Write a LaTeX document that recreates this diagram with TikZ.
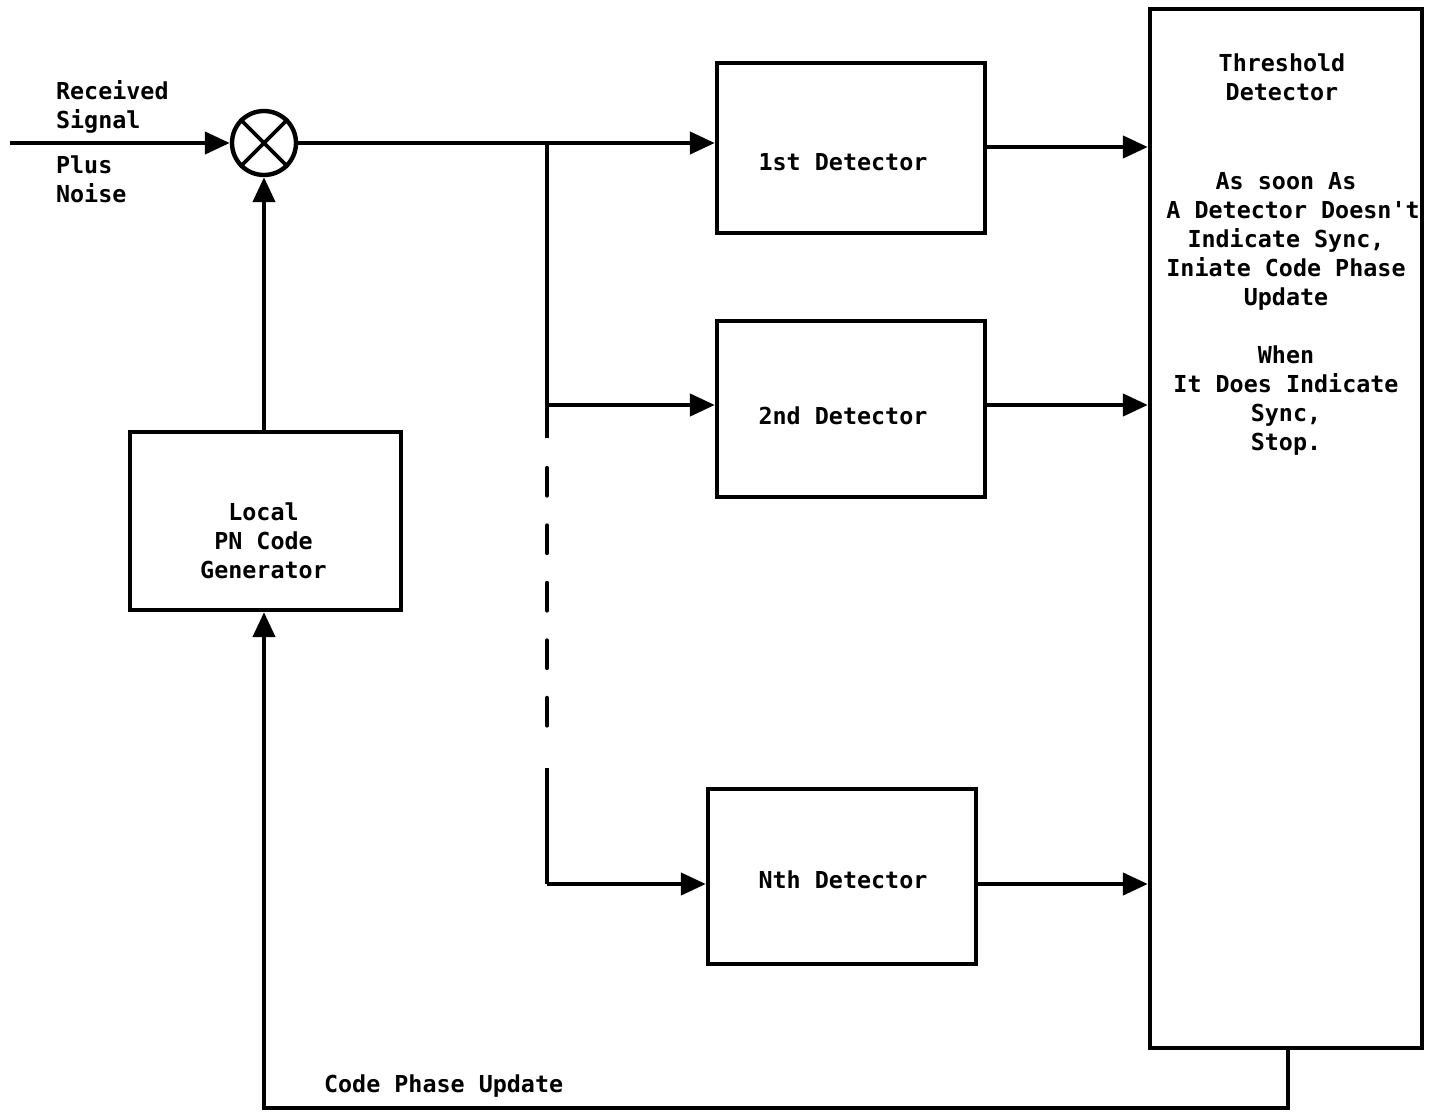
\documentclass[tikz,border=0pt]{standalone}
\usepackage{fontspec}
\usepackage{tikz}
\usetikzlibrary{arrows.meta, positioning, calc}
\newfontfamily\diagfont{DejaVu Sans Mono}

\begin{document}
\begin{tikzpicture}[x=0.02cm, y=-0.02cm,
  font=\diagfont\bfseries\fontsize{13.3pt}{16.5pt}\selectfont,
  line width=2.5pt,
  box/.style={draw, rectangle, minimum width=5.36cm, minimum height=3.45cm, inner sep=0pt},
  arr/.style={-{Triangle[length=0.5cm,width=0.44cm]}}]
\useasboundingbox (0,0) rectangle (1434,1112);

% ---- mixer + inputs ----
\node[draw, circle, minimum size=1.28cm, inner sep=0pt] (mix) at (264,143) {};
\draw[line width=2.2pt] (mix.north east) -- (mix.south west);
\draw[line width=2.2pt] (mix.north west) -- (mix.south east);
\coordinate (in) at (10,143);
\node[anchor=west, align=left] (rxlbl) at (48,106.5) {Received\\Signal};
\node[anchor=west, align=left] (noiselbl) at (48,179.5) {Plus\\Noise};
\draw[arr] (in) -- (mix.west);

% ---- local code generator ----
\node[box, minimum width=5.42cm, minimum height=3.56cm] (pngen) at (265.5,521) {};
\node[align=center] (pngenlbl) at ($(pngen.center)+(-2,20)$) {Local\\PN Code\\Generator};
\draw[arr] (mix.south |- pngen.north) -- (mix.south);

% ---- detectors ----
\node[box, minimum height=3.4cm] (det1) at (851,148) {};
\node (det1lbl) at ($(det1.center)+(-8,14)$) {1st Detector};
\node[box, minimum height=3.52cm] (det2) at (851,409) {};
\node (det2lbl) at ($(det2.center)+(-8,7)$) {2nd Detector};
\node[box, minimum height=3.5cm] (detN) at (842,876.5) {};
\node (detNlbl) at ($(detN.center)+(1,3)$) {Nth Detector};

% ---- threshold detector ----
\node[draw, rectangle, minimum width=5.44cm, minimum height=20.78cm, inner sep=0pt] (thr) at (1286,528.5) {};
\node[align=center] (thrttl) at (1282,77.5) {Threshold\\Detector};
\node[align=center] (thrtxt) at (1286,313.5)
  {As soon As\\ \ A Detector Doesn't\\Indicate Sync,\\Iniate Code Phase\\Update\\[16.5pt]
   When\\It Does Indicate\\Sync,\\Stop.};

% ---- feed lines ----
\coordinate (br) at (547,143);
\coordinate (br2) at (547,405);
\coordinate (brN) at (547,884);
\draw[arr] (mix.east) -- (mix.east -| det1.west);
\draw (br) -- (547,438);
\draw[line cap=round, dash pattern=on 0.55cm off 0.6cm] (547,468) -- (547,740);
\draw (547,768) -- (brN);
\draw[arr] (br2) -- (br2 -| det2.west);
\draw[arr] (brN) -- (brN -| detN.west);

% ---- detector outputs ----
\draw[arr] (det1.east |- 0,147) -- (thr.west |- 0,147);
\draw[arr] (det2.east |- 0,405) -- (thr.west |- 0,405);
\draw[arr] (detN.east |- 0,884) -- (thr.west |- 0,884);

% ---- feedback ----
\coordinate (fb) at (1288,1108);
\draw[arr] (thr.south -| fb) -- (fb) -| (mix.south |- pngen.south);
\node[anchor=west] (fblbl) at (316,1086) {Code Phase Update};
\end{tikzpicture}
\end{document}
